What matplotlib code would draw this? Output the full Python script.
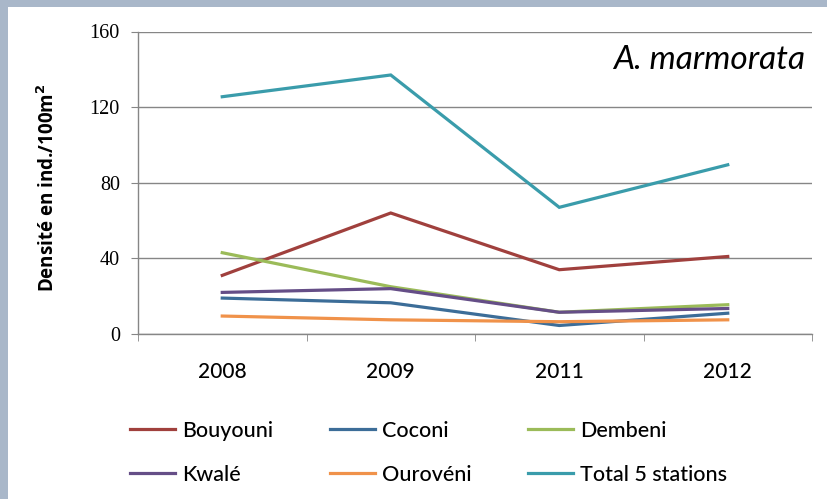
import numpy as np
import matplotlib.pyplot as plt
from matplotlib.patches import Rectangle

years = ['2008', '2009', '2011', '2012']
bouyouni = [31, 64, 34, 41]
coconi = [19, 16.5, 4.5, 11]
dembeni = [43, 25, 11.5, 15.5]
kwale = [22, 24, 11.5, 13.5]
ouroveni = [9.5, 7.5, 6.5, 7.5]
total = [125.5, 137, 67, 89.5]

series = [
    ('Bouyouni', bouyouni, '#A0403D'),
    ('Coconi', coconi, '#3C6D98'),
    ('Dembeni', dembeni, '#9BBB59'),
    ('Kwalé', kwale, '#654E87'),
    ('Ourovéni', ouroveni, '#F0924A'),
    ('Total 5 stations', total, '#3A9CAB'),
]

fig = plt.figure(figsize=(8.27, 4.99), dpi=100)
fig.patch.set_facecolor('#A9B7C9')
fig.patches.append(Rectangle((8 / 827, 0), 1, 1 - 7 / 499, transform=fig.transFigure,
                             facecolor='white', edgecolor='none', zorder=-10))

ax = fig.add_axes([138 / 827, 1 - 334 / 499, 674 / 827, 302.5 / 499])
ax.set_zorder(5)
ax.set_facecolor('none')
x = np.arange(len(years))

lines = {}
for name, vals, col in series:
    ln, = ax.plot(x, vals, color=col, lw=2.3, solid_joinstyle='miter')
    lines[name] = ln

ax.set_xlim(-0.5, 3.5)
ax.set_ylim(0, 160)
ax.set_yticks([0, 40, 80, 120, 160])
ax.set_xticks(x)
ax.set_xticklabels(years, fontsize=15, family='Lato', fontweight='medium')
ax.set_xticks(np.arange(-0.5, 4, 1), minor=True)
ax.tick_params(axis='x', which='major', length=0, pad=20)
ax.tick_params(axis='x', which='minor', length=5, color='#868686', direction='out')
ax.tick_params(axis='y', length=5, color='#868686', pad=8)
for lab in ax.get_yticklabels():
    lab.set_family('Liberation Serif')
    lab.set_fontsize(14.5)

ax.grid(axis='y', color='#868686', lw=1)
ax.set_axisbelow(True)
for s in ['top', 'right']:
    ax.spines[s].set_visible(False)
for s in ['left', 'bottom']:
    ax.spines[s].set_color('#868686')
    ax.spines[s].set_linewidth(1)

fig.text(48 / 827, 1 - 188 / 499, 'Densité en ind./100m$^{\\mathbf{2}}$', rotation=90,
         ha='center', va='center', fontsize=13.5, fontweight='bold', family='Open Sans')
ax.text(0.99, 0.905, 'A. marmorata', transform=ax.transAxes, ha='right', va='center',
        fontsize=24, style='italic', family='Lato')

# three one-column legends so each column starts where it does in the original
columns = [(['Bouyouni', 'Kwalé'], 130), (['Coconi', 'Ourovéni'], 330),
           (['Dembeni', 'Total 5 stations'], 528)]
for names, xpos in columns:
    leg = fig.legend([lines[n] for n in names], names, loc='upper left',
                     bbox_to_anchor=(xpos / 827, 1 - 421 / 499), frameon=False,
                     prop={'family': 'Lato', 'size': 15.5, 'weight': 'medium'},
                     borderpad=0, borderaxespad=0,
                     handlelength=2.1, handletextpad=0.3, labelspacing=1.1)

fig.savefig('out.png', dpi=100)
